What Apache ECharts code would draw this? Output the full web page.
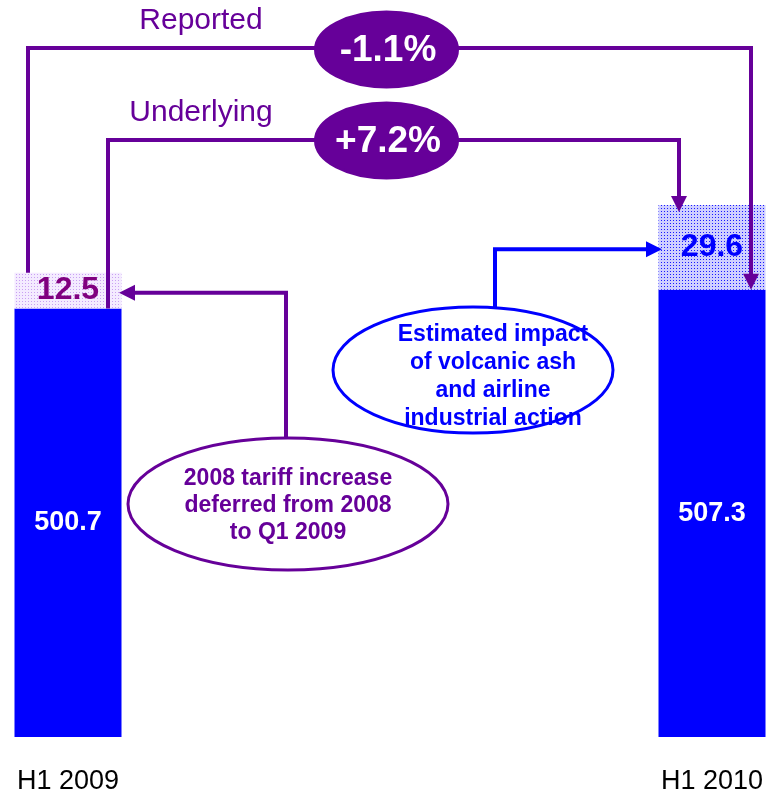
<!DOCTYPE html>
<html>
<head>
<meta charset="utf-8">
<script src="https://cdn.jsdelivr.net/npm/echarts@6/dist/echarts.min.js"></script>
<style>
  html, body { margin: 0; padding: 0; background: #fff; }
  #main { width: 773px; height: 795px; }
</style>
</head>
<body>
<div id="main"></div>
<script>
// data
var categories = ['H1 2009', 'H1 2010'];
var baseValues = [500.7, 507.3];
var extraValues = [12.5, 29.6];
var reportedLabel = 'Reported';
var reportedChange = '-1.1%';
var underlyingLabel = 'Underlying';
var underlyingChange = '+7.2%';
var tariffNote = '2008 tariff increase\ndeferred from 2008\nto Q1 2009';
var ashNote = 'Estimated impact\nof volcanic ash\nand airline\nindustrial action';

var FONT = '"Liberation Sans", Arial, Helvetica, sans-serif';
var BLUE = '#0000ff';
var PURPLE = '#660099';

// dotted fill for the small top segments
function dots(bg, dot) {
  var c = document.createElement('canvas');
  c.width = 3; c.height = 3;
  var g = c.getContext('2d');
  g.fillStyle = bg; g.fillRect(0, 0, 3, 3);
  g.fillStyle = dot; g.fillRect(1, 1, 1, 1);
  return { image: c, repeat: 'repeat' };
}
var extraFills = [dots('#f4ebff', '#c9a0f2'), dots('#cfcfff', '#1a1aff')];
var extraLabelColors = ['#800080', BLUE];

var chart = echarts.init(document.getElementById('main'));

chart.setOption({
  animation: false,
  backgroundColor: '#fff',
  grid: { left: 68, right: 61, top: 0, bottom: 58, containLabel: false, outerBoundsMode: 'none' },
  xAxis: {
    type: 'category',
    data: categories,
    boundaryGap: false,
    axisLine: { show: false },
    axisTick: { show: false },
    splitLine: { show: false },
    axisLabel: { color: '#000', fontSize: 27, fontFamily: FONT, margin: 31 }
  },
  yAxis: {
    type: 'value',
    min: 351,
    max: 608.5,
    startValue: 351,
    show: false
  },
  series: [
    {
      type: 'bar',
      stack: 'total',
      barWidth: 107,
      clip: false,
      data: baseValues,
      itemStyle: { color: BLUE },
      label: {
        show: true, position: 'inside', color: '#fff',
        fontSize: 27, fontWeight: 'bold', fontFamily: FONT
      }
    },
    {
      type: 'bar',
      stack: 'total',
      barWidth: 107,
      clip: false,
      data: extraValues.map(function (v, i) {
        return { value: v, itemStyle: { color: extraFills[i] }, label: { color: extraLabelColors[i] } };
      }),
      label: {
        show: true, position: 'inside',
        fontSize: 32, fontWeight: 'bold', fontFamily: FONT
      }
    }
  ]
});

// connectors and notes, anchored to the bars
function px(i, v) {
  return chart.convertToPixel({ gridIndex: 0 }, [i, v]);
}
var leftBase = px(0, baseValues[0]);
var leftTop = px(0, baseValues[0] + extraValues[0]);
var rightBase = px(1, baseValues[1]);
var rightTop = px(1, baseValues[1] + extraValues[1]);
var leftMid = (leftBase[1] + leftTop[1]) / 2 + 2;
var rightMid = (rightBase[1] + rightTop[1]) / 2 + 2;

function arrow(x, y, dir, color) {
  var pts;
  if (dir === 'down') pts = [[x - 8, y - 16], [x + 8, y - 16], [x, y]];
  else if (dir === 'left') pts = [[x, y], [x + 16, y - 8], [x + 16, y + 8]];
  else pts = [[x, y], [x - 16, y - 8], [x - 16, y + 8]];
  return { type: 'polygon', z: 10, shape: { points: pts }, style: { fill: color } };
}
function line(pts, color) {
  return { type: 'polyline', z: 9, shape: { points: pts }, style: { stroke: color, lineWidth: 4, fill: null } };
}
function text(x, y, str, size, color, bold, lh) {
  return {
    type: 'text', z: 12, x: x, y: y,
    style: {
      text: str, fill: color, align: 'center', verticalAlign: 'middle',
      fontSize: size, fontWeight: bold ? 'bold' : 'normal', fontFamily: FONT,
      lineHeight: lh || size
    }
  };
}
function ellipse(cx, cy, rx, ry, fill, stroke) {
  return {
    type: 'ellipse', z: 11, shape: { cx: cx, cy: cy, rx: rx, ry: ry },
    style: { fill: fill, stroke: stroke, lineWidth: 3 }
  };
}

var lx1 = leftBase[0] - 40, lx2 = leftBase[0] + 40;
var rx1 = rightBase[0] - 33, rx2 = rightBase[0] + 39;
var underTip = rightTop[1] + 7;

chart.setOption({
  graphic: [
    // reported
    line([[lx1, leftTop[1]], [lx1, 48], [rx2, 48], [rx2, rightBase[1] - 14]], PURPLE),
    arrow(rx2, rightBase[1], 'down', PURPLE),
    ellipse(386.5, 49.5, 71, 37.5, PURPLE, PURPLE),
    text(388, 51, reportedChange, 37, '#fff', true),
    text(201, 21, reportedLabel, 30, PURPLE, false),
    // underlying
    line([[lx2, leftBase[1]], [lx2, 140], [rx1, 140], [rx1, underTip - 14]], PURPLE),
    arrow(rx1, underTip, 'down', PURPLE),
    ellipse(386.5, 140.5, 71, 37.5, PURPLE, PURPLE),
    text(388, 142, underlyingChange, 37, '#fff', true),
    text(201, 113, underlyingLabel, 30, PURPLE, false),
    // tariff note
    line([[286, 440], [286, leftMid], [133, leftMid]], PURPLE),
    arrow(119, leftMid, 'left', PURPLE),
    ellipse(288, 504, 160, 66, '#fff', PURPLE),
    text(288, 506, tariffNote, 23, PURPLE, true, 27),
    // volcanic ash note
    line([[495, 310], [495, rightMid], [648, rightMid]], BLUE),
    arrow(662, rightMid, 'right', BLUE),
    ellipse(473, 370, 140, 63, '#fff', BLUE),
    text(493, 377, ashNote, 23, BLUE, true, 28)
  ]
});
</script>
</body>
</html>
